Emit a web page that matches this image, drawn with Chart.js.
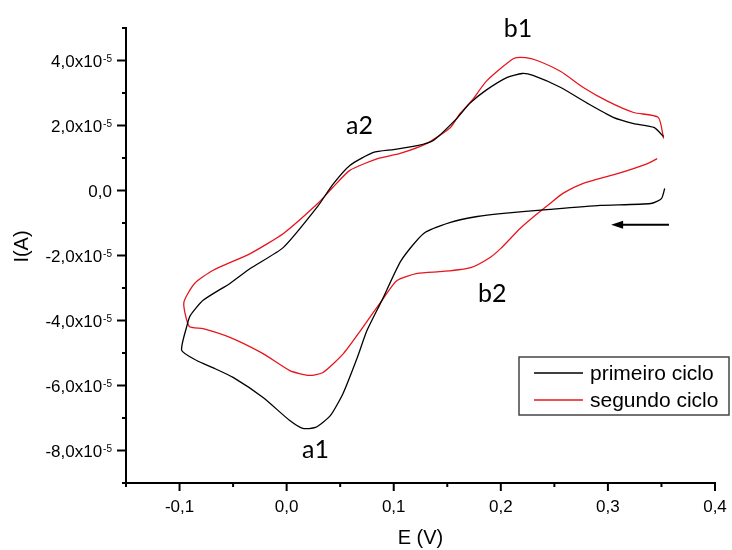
<!DOCTYPE html>
<html>
<head>
<meta charset="utf-8">
<title>Voltametria cíclica</title>
<script src="https://cdn.jsdelivr.net/npm/chart.js@4.4.1/dist/chart.umd.min.js"></script>
<style>
    html, body { margin: 0; padding: 0; background: #fff; }
    #box { width: 732px; height: 550px; }
</style>
</head>
<body>
<div id="box"><canvas id="chartCV" width="732" height="550"></canvas></div>
<script>
/**
 * Primeiro ciclo - E (V)
 */
const e1 = [0.353, 0.350, 0.340, 0.293, 0.246, 0.200, 0.178, 0.153, 0.128, 0.107, 0.089, 0.075,
    0.066, 0.053, 0.041, 0.027, 0.015, 0.003, -0.022, -0.050, -0.069, -0.084, -0.098, -0.093,
    -0.090, -0.078, -0.053, -0.034, -0.003, 0.029, 0.043, 0.059, 0.081, 0.100, 0.122, 0.137,
    0.159, 0.171, 0.186, 0.206, 0.220, 0.230, 0.256, 0.281, 0.305, 0.324, 0.343, 0.352];

/**
 * Primeiro ciclo - I (x10^-5 A)
 */
const i1 = [0.06, -0.25, -0.40, -0.46, -0.58, -0.71, -0.80, -0.98, -1.32, -2.15, -3.38, -4.31,
    -5.14, -6.22, -6.92, -7.29, -7.32, -7.08, -6.37, -5.75, -5.45, -5.23, -4.92, -4.15,
    -3.85, -3.38, -2.86, -2.40, -1.75, -0.49, 0.18, 0.77, 1.17, 1.26, 1.38, 1.54,
    2.22, 2.68, 3.08, 3.48, 3.60, 3.54, 3.17, 2.68, 2.25, 2.06, 1.94, 1.66];

/**
 * Segundo ciclo - E (V)
 */
const e2 = [0.346, 0.337, 0.309, 0.277, 0.258, 0.246, 0.232, 0.218, 0.200, 0.190, 0.172, 0.146,
    0.122, 0.103, 0.089, 0.069, 0.053, 0.034, 0.021, 0.003, -0.022, -0.053, -0.078, -0.091,
    -0.096, -0.086, -0.069, -0.034, -0.003, 0.029, 0.043, 0.059, 0.085, 0.106, 0.131, 0.153,
    0.162, 0.173, 0.187, 0.212, 0.223, 0.234, 0.256, 0.277, 0.300, 0.324, 0.347, 0.352];

/**
 * Segundo ciclo - I (x10^-5 A)
 */
const i2 = [0.98, 0.83, 0.52, 0.22, -0.09, -0.40, -0.77, -1.17, -1.78, -2.06, -2.37, -2.49,
    -2.55, -2.77, -3.38, -4.31, -5.02, -5.60, -5.69, -5.54, -5.02, -4.52, -4.25, -4.18,
    -3.45, -2.86, -2.46, -1.94, -1.32, -0.40, 0.09, 0.62, 0.98, 1.14, 1.45, 1.94,
    2.37, 2.77, 3.38, 4.06, 4.09, 4.00, 3.66, 3.17, 2.74, 2.40, 2.25, 1.60];

/**
 * Ticks
 */
const xTicks = [-0.1, 0, 0.1, 0.2, 0.3, 0.4];
const xMinor = [-0.15, -0.05, 0.05, 0.15, 0.25, 0.35];
const yTicks = [-8, -6, -4, -2, 0, 2, 4];
const yMinor = [-9, -7, -5, -3, -1, 1, 3, 5];

/**
 * Peaks (label baseline)
 */
const peakLabels = ['b1', 'a2', 'a1', 'b2'];
const peakE = [0.216, 0.068, 0.027, 0.192];
const peakI = [4.71, 1.75, -8.22, -3.42];

/**
 * Scan arrow
 */
const arrowE = [0.357, 0.303];
const arrowI = [-1.05, -1.05];

const unit = 1e-5;

function points(e, i) {
    return e.map((v, k) => ({ x: v, y: i[k] * unit }));
}

/**
 * Extras: ticks, labels, arrow, legend
 */
const extras = {
    id: 'extras',

    afterDatasetsDraw(chart) {
        const ctx = chart.ctx;
        const xs = chart.scales.x;
        const ys = chart.scales.y;
        ctx.save();

        /**
         * Peak labels
         */
        ctx.fillStyle = '#000';
        ctx.font = '25px Lato, "Open Sans", sans-serif';
        ctx.textAlign = 'center';
        ctx.textBaseline = 'alphabetic';
        peakLabels.forEach((t, k) => {
            ctx.fillText(t, xs.getPixelForValue(peakE[k]), ys.getPixelForValue(peakI[k] * unit));
        });

        /**
         * Arrow
         */
        const ax0 = xs.getPixelForValue(arrowE[0]);
        const ax1 = xs.getPixelForValue(arrowE[1]);
        const ay = ys.getPixelForValue(arrowI[0] * unit);
        ctx.strokeStyle = '#000';
        ctx.lineWidth = 2;
        ctx.beginPath();
        ctx.moveTo(ax0, ay);
        ctx.lineTo(ax1 + 8, ay);
        ctx.stroke();
        ctx.beginPath();
        ctx.moveTo(ax1, ay);
        ctx.lineTo(ax1 + 12, ay - 4);
        ctx.lineTo(ax1 + 12, ay + 4);
        ctx.closePath();
        ctx.fill();
        ctx.restore();
    },

    afterDraw(chart) {
        const ctx = chart.ctx;
        const xs = chart.scales.x;
        const ys = chart.scales.y;
        const ca = chart.chartArea;
        ctx.save();
        ctx.strokeStyle = '#000';
        ctx.lineWidth = 2;

        /**
         * Tick marks
         */
        const tick = (x0, y0, x1, y1) => {
            ctx.beginPath();
            ctx.moveTo(x0, y0);
            ctx.lineTo(x1, y1);
            ctx.stroke();
        };
        xTicks.forEach(v => { const p = xs.getPixelForValue(v); tick(p, ca.bottom, p, ca.bottom + 8); });
        xMinor.forEach(v => { const p = xs.getPixelForValue(v); tick(p, ca.bottom, p, ca.bottom + 4); });
        yTicks.forEach(v => { const p = ys.getPixelForValue(v * unit); tick(ca.left - 9, p, ca.left, p); });
        yMinor.forEach(v => { const p = ys.getPixelForValue(v * unit); tick(ca.left - 4, p, ca.left, p); });

        /**
         * Y labels with superscript
         */
        const right = ca.left - 14;
        ctx.fillStyle = '#000';
        ctx.textAlign = 'right';
        ctx.textBaseline = 'alphabetic';
        yTicks.forEach(v => {
            const p = ys.getPixelForValue(v * unit);
            if (v === 0) {
                ctx.font = '17px "Liberation Sans", Arial, sans-serif';
                ctx.fillText('0,0', right, p + 6);
                return;
            }
            ctx.font = '10px "Liberation Sans", Arial, sans-serif';
            const sw = ctx.measureText('-5').width;
            ctx.fillText('-5', right, p + 1);
            ctx.font = '17px "Liberation Sans", Arial, sans-serif';
            ctx.fillText(v.toFixed(1).replace('.', ',') + 'x10', right - sw - 1, p + 6);
        });

        /**
         * Y title
         */
        ctx.save();
        ctx.translate(22, (ca.top + ca.bottom) / 2 - 9);
        ctx.rotate(-Math.PI / 2);
        ctx.textAlign = 'center';
        ctx.textBaseline = 'middle';
        ctx.font = '20px "Liberation Sans", Arial, sans-serif';
        ctx.fillText('I(A)', 0, 0);
        ctx.restore();

        /**
         * Legend
         */
        const lx = ca.right - 196;
        const ly = ca.bottom - 126;
        ctx.fillStyle = '#fff';
        ctx.fillRect(lx, ly, 210, 58);
        ctx.strokeStyle = '#444';
        ctx.lineWidth = 1.5;
        ctx.strokeRect(lx, ly, 210, 58);
        ctx.textAlign = 'left';
        ctx.textBaseline = 'middle';
        ctx.font = '21px "Liberation Sans", Arial, sans-serif';
        chart.data.datasets.forEach((ds, k) => {
            const y = ly + 16 + k * 27;
            ctx.strokeStyle = ds.borderColor;
            ctx.lineWidth = 1.3;
            tick(lx + 15, y, lx + 64, y);
            ctx.fillStyle = '#000';
            ctx.fillText(ds.label, lx + 71, y + 1);
        });
        ctx.restore();
    }
};

new Chart(document.getElementById('chartCV'), {
    type: 'scatter',

    data: {
        datasets: [
            {
                label: 'primeiro ciclo',
                data: points(e1, i1),
                borderColor: '#000000',
                backgroundColor: '#000000'
            },
            {
                label: 'segundo ciclo',
                data: points(e2, i2),
                borderColor: '#e8141c',
                backgroundColor: '#e8141c'
            }
        ]
    },

    options: {
        responsive: false,
        animation: false,
        showLine: true,
        datasets: {
            scatter: {
                showLine: true,
                pointRadius: 0,
                borderWidth: 1.3,
                tension: 0.2,
                fill: false
            }
        },
        layout: {
            padding: { top: 28, right: 17, left: 0, bottom: 0 }
        },
        plugins: {
            legend: { display: false },
            tooltip: { enabled: false }
        },
        scales: {
            x: {
                type: 'linear',
                min: -0.15,
                max: 0.4,
                afterBuildTicks: scale => { scale.ticks = xTicks.map(v => ({ value: v })); },
                afterFit: scale => {
                    scale.height = 67;
                    scale.paddingLeft = 0;
                    scale.paddingRight = 0;
                },
                grid: { display: false, drawTicks: false },
                border: { display: true, color: '#000', width: 2 },
                ticks: {
                    padding: 14,
                    color: '#000',
                    font: { family: '"Liberation Sans", Arial, sans-serif', size: 17 },
                    callback: v => v.toFixed(1).replace('.', ',')
                },
                title: {
                    display: true,
                    text: 'E (V)',
                    color: '#000',
                    padding: { top: 0, bottom: 0 },
                    font: { family: '"Liberation Sans", Arial, sans-serif', size: 20 }
                }
            },
            y: {
                type: 'linear',
                min: -9e-5,
                max: 5e-5,
                afterBuildTicks: scale => { scale.ticks = yTicks.map(v => ({ value: v * unit })); },
                afterFit: scale => {
                    scale.width = 126;
                    scale.paddingTop = 0;
                    scale.paddingBottom = 0;
                },
                grid: { display: false, drawTicks: false },
                border: { display: true, color: '#000', width: 2 },
                ticks: { display: false },
                title: { display: false }
            }
        }
    },

    plugins: [extras]
});
</script>
</body>
</html>
